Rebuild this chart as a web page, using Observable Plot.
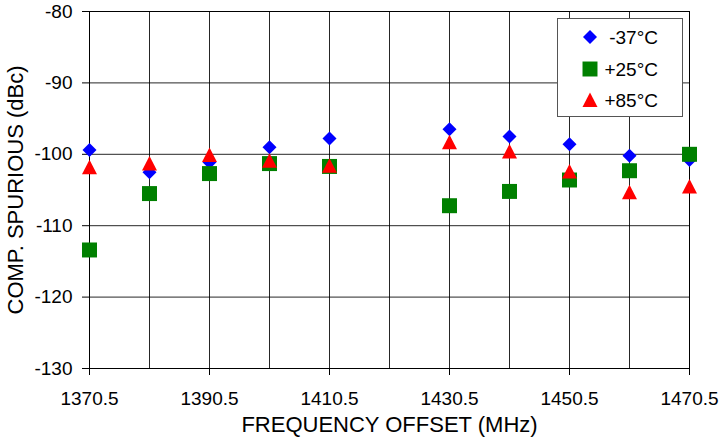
<!DOCTYPE html>
<html><head><meta charset="utf-8">
<script src="https://cdn.jsdelivr.net/npm/d3@7"></script>
<script src="https://cdn.jsdelivr.net/npm/@observablehq/plot@0.6"></script>
<style>
body{margin:0;background:#fff;}
#wrap{position:relative;width:722px;height:443px;font-family:"Liberation Sans",Arial,Helvetica,sans-serif;}
#legend{position:absolute;left:557px;top:18px;width:124px;height:97px;border:1px solid #555;background:#fff;}
#legend svg{display:block;}
</style>
</head><body>
<div id="wrap"><div id="legend"></div></div>
<script>
// ---- data ----
const freqs = [1370.5, 1380.5, 1390.5, 1400.5, 1410.5, 1430.5, 1440.5, 1450.5, 1460.5, 1470.5];
const tempM37 = [-99.4, -102.5, -101.1, -99.0, -97.8, -96.5, -97.5, -98.6, -100.2, -100.8];
const tempP25 = [-113.4, -105.5, -102.7, -101.3, -101.7, -107.2, -105.2, -103.6, -102.3, -100.0];
const tempP85 = [-101.8, -101.3, -100.1, -100.9, -101.6, -98.3, -99.6, -102.4, -105.3, -104.5];
const seriesNames = ["-37°C", "+25°C", "+85°C"];
const xTicks = [1370.5, 1390.5, 1410.5, 1430.5, 1450.5, 1470.5];
const xGrid = [1380.5, 1390.5, 1400.5, 1410.5, 1420.5, 1430.5, 1440.5, 1450.5, 1460.5];
const yTicks = [-130, -120, -110, -100, -90, -80];
const yGrid = [-120, -110, -100, -90];

// ---- custom symbols ----
const diamond = {draw(ctx, size){const r=Math.sqrt(size/Math.PI);ctx.moveTo(0,-r);ctx.lineTo(r,0);ctx.lineTo(0,r);ctx.lineTo(-r,0);ctx.closePath();}};
const square = {draw(ctx, size){const r=Math.sqrt(size/Math.PI)*1.07;ctx.moveTo(-r,-r);ctx.lineTo(r,-r);ctx.lineTo(r,r);ctx.lineTo(-r,r);ctx.closePath();}};
const triangle = {draw(ctx, size){const r=Math.sqrt(size/Math.PI);ctx.moveTo(0,-r*1.07);ctx.lineTo(r*1.07,r);ctx.lineTo(-r*1.07,r);ctx.closePath();}};

const series = [
  {name: seriesNames[0], values: tempM37, color: "#0000FF", symbol: diamond},
  {name: seriesNames[1], values: tempP25, color: "#008000", symbol: square},
  {name: seriesNames[2], values: tempP85, color: "#FF0000", symbol: triangle}
];

const font = '"Liberation Sans", Arial, Helvetica, sans-serif';

const chart = Plot.plot({
  width: 722, height: 443,
  marginLeft: 89, marginRight: 33, marginTop: 11, marginBottom: 75,
  style: {fontFamily: font, fontSize: "19px", color: "#000", background: "#fff"},
  x: {domain: [1370.5, 1470.5]},
  y: {domain: [-130, -80]},
  marks: [
    Plot.gridX(xGrid, {stroke: "#000", strokeOpacity: 0.85}),
    Plot.gridY(yGrid, {stroke: "#000", strokeOpacity: 0.85}),
    Plot.frame({stroke: "#000"}),
    Plot.axisX(xTicks, {tickSize: 7, tickPadding: 16, tickFormat: d => d.toFixed(1), fontSize: 19,
      label: "FREQUENCY OFFSET (MHz)", labelAnchor: "center", labelArrow: "none", labelOffset: 63}),
    Plot.axisY(yTicks, {tickSize: 7, tickPadding: 10, tickFormat: d => String(d), fontSize: 19,
      label: "COMP. SPURIOUS (dBc)", labelAnchor: "center", labelArrow: "none", labelOffset: 82}),
    ...series.map(s => Plot.dot(freqs.map((f, i) => ({f, v: s.values[i]})),
      {x: "f", y: "v", fill: s.color, stroke: "none", symbol: s.symbol, r: 7}))
  ]
});
chart.querySelectorAll('[aria-label="x-axis label"], [aria-label="y-axis label"]').forEach(g => g.setAttribute("font-size", "22"));
document.getElementById("wrap").prepend(chart);

// ---- legend ----
const lg = d3.select("#legend").append("svg").attr("width", 124).attr("height", 97);
const rowsY = [18, 50, 81];
series.forEach((s, i) => {
  const sym = d3.symbol().type(s.symbol).size(49 * Math.PI)();
  lg.append("path").attr("d", sym).attr("transform", `translate(32,${rowsY[i]})`).attr("fill", s.color);
  lg.append("text").attr("x", 100).attr("y", rowsY[i]).attr("dy", "0.35em").attr("text-anchor", "end")
    .attr("font-family", font).attr("font-size", 19).text(s.name);
});
</script>
</body></html>
